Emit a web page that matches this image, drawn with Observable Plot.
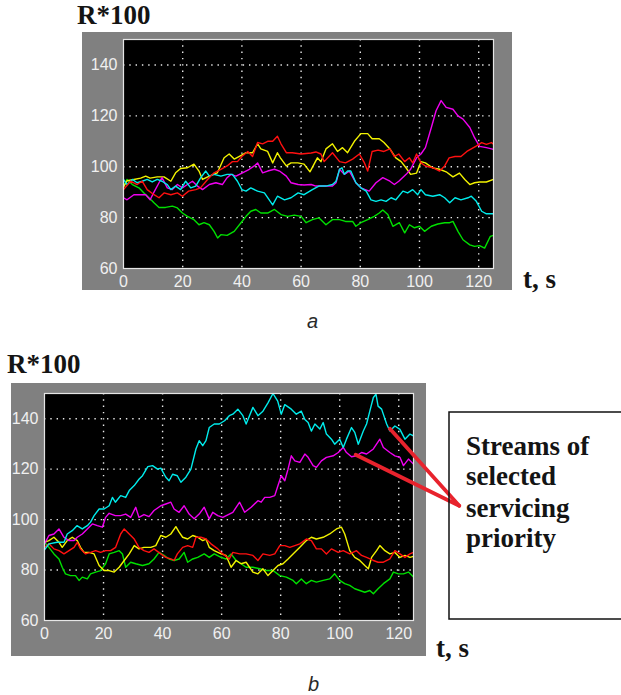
<!DOCTYPE html>
<html><head><meta charset="utf-8">
<script src="https://cdn.jsdelivr.net/npm/d3@7"></script>
<script src="https://cdn.jsdelivr.net/npm/@observablehq/plot@0.6"></script>
<style>
html,body{margin:0;padding:0;background:#fff;}
#page{position:relative;width:621px;height:695px;overflow:hidden;}
.panel{position:absolute;}
.panel svg{overflow:visible;display:block;}
#overlay{position:absolute;left:0;top:0;pointer-events:none;}
</style></head>
<body><div id="page">
<div id="pa" class="panel" style="left:82px;top:32px"></div>
<div id="pb" class="panel" style="left:11px;top:383px"></div>
<svg id="overlay" width="621" height="695">
  <g font-family="Liberation Serif, Times New Roman, serif" font-weight="bold" font-size="27" fill="#141414">
    <text x="77" y="24">R*100</text>
    <text x="523" y="288">t, s</text>
    <text x="7" y="373">R*100</text>
    <text x="436" y="657">t, s</text>
  </g>
  <g font-family="Liberation Sans, Arial, sans-serif" font-style="italic" font-size="20" fill="#2a2a2a">
    <text x="307" y="328">a</text>
    <text x="308" y="691">b</text>
  </g>
  <rect x="449" y="412" width="190" height="207" fill="none" stroke="#111" stroke-width="1.5"></rect>
  <g font-family="Liberation Serif, Times New Roman, serif" font-weight="bold" font-size="27" fill="#141414">
    <text x="466" y="455">Streams of</text>
    <text x="466" y="485">selected</text>
    <text x="466" y="517">servicing</text>
    <text x="466" y="547">priority</text>
  </g>
</svg>
</div>
<script>
// ---- axes ----
const xTicks = [0, 20, 40, 60, 80, 100, 120];
const yTicks = [60, 80, 100, 120, 140];
const xDomain = [0, 125];
const yDomain = [60, 150];

// ---- panel a: [t, R*100] ----
const aYellow = [[0,92],[1.2,94.5],[3.5,95],[5.8,95.5],[7.5,96.3],[9,95.5],[11.4,96],[13.7,96],[16,94.3],[17.6,97.6],[19.3,99.3],[21.6,99.6],[23.8,101],[25.5,98.3],[26.7,95],[29,96.3],[31.7,97.6],[34,103.5],[35.7,105],[37.4,103],[39,104],[41.4,105.5],[43.6,105.5],[45.3,109],[46.4,107],[48.7,106],[50.4,101.5],[52,105.5],[53,103.5],[55,100.3],[56.6,101.5],[58.9,101.5],[61,101],[63,98],[65.5,103.5],[66.7,102],[68.4,107],[70.6,109],[72.3,106],[74,107.5],[75.7,105.5],[78,110],[80.2,113],[82.5,113],[84,111],[86.4,111],[88,109.5],[90,107],[92,103.5],[93.8,102],[95.5,99.5],[97,97],[99,97.5],[100.5,102],[102,101.5],[104.5,99.5],[106.8,99],[109,98],[111.3,96],[113.5,97.5],[115.3,95],[117,93],[118.6,93.7],[120.3,94],[122.6,94],[125,95]];
const aRed = [[0,91],[2.4,94.3],[4.6,93],[6.3,94.3],[8,91],[10.3,89],[12,87.8],[13.7,89.7],[16,89],[18.2,89.7],[19.9,88.4],[22,90.4],[24.4,91],[26,91.7],[28.4,95],[30.6,97.6],[32.9,99],[35,100.3],[36.8,102],[38.5,102],[40,104],[42,106],[43.6,104],[45.3,109.5],[47,109],[48.7,110],[50.4,110],[52,112],[53.2,109],[55,105.5],[57,105.5],[60,105],[63.4,105.4],[65,105.8],[66.7,105],[67.8,102],[70.6,105.5],[73,102],[75,101.5],[77.4,103],[79.7,105],[81.4,101.5],[82.5,98.3],[84,106],[86,106.5],[88,106],[90,107],[91.5,104],[93,105],[95,102],[96.6,103.5],[97.7,101.5],[99,105],[100.5,101.5],[102,100.3],[104.5,99.6],[106.8,98.3],[108.5,100.3],[110,103.5],[112,104],[114,104],[116,106],[117.5,107],[119,108],[121,109.5],[122.6,108.8],[124.3,109.5],[125,108.8]];
const aMagenta = [[0,87.8],[1.2,87],[3.5,89],[5.8,89],[7.5,89],[9,87],[10.3,90],[12,93.7],[13,95.7],[14.8,91.7],[16.5,91],[18.2,93],[19.9,91.7],[21.6,93],[23.3,94.3],[25,92.4],[26.7,91],[29,93],[31.2,93.7],[33.4,93],[35,95.7],[36.3,97],[38,96.3],[40.2,97.6],[42.5,99],[44.2,100.3],[45.3,101.5],[47,97.6],[48.7,98.3],[51,99],[52.7,98.3],[55,96.3],[56.6,93.7],[59,93],[61,92.8],[63.4,93],[65,92.4],[68.4,92.4],[70.6,92.4],[71.8,93.7],[73,99],[74.6,97],[76.3,98.3],[78.5,93.7],[80.2,91.7],[83,90.4],[85.3,93.7],[87.6,95.7],[90,94.3],[91.5,93],[93,94.3],[95.5,97],[97,99],[99,103.5],[100.5,105],[102,107.5],[104,115.4],[105.6,122],[107.3,126],[109,123.3],[111.3,122.6],[113,120],[114.7,118.7],[117,115.4],[118.6,111.4],[120.3,108],[122.6,107.5],[125,106.8]];
const aCyan = [[0,95],[1.2,93],[3,95],[4.6,93.7],[6.3,94.3],[8,95],[9.7,94],[11.4,95],[13,94.3],[14.8,93],[16,91],[17.6,92.4],[19.3,91],[21,94.3],[22.7,91.7],[24.4,92.4],[26.1,95.7],[27.8,98.3],[29,96.3],[30.6,97],[32.9,96.3],[35,97],[36.8,97],[38.5,94.3],[40,91],[41.4,90.4],[43,91.7],[45.3,90.4],[47.6,89.7],[50.4,85],[52,88.4],[54.4,87],[56.6,87.8],[59,89.7],[61,89],[63.8,91],[66,92.4],[68.4,92.4],[70.6,93],[71.8,94.3],[73,99],[73.8,99.6],[74.6,97],[75.7,98.3],[76.8,98.3],[78.5,93.7],[80.2,91.7],[82,90.4],[83.6,87],[85.3,86.4],[87,87],[88.7,86.4],[90.4,87.8],[92,87],[94.4,90.4],[96,89.7],[97.7,91],[99.4,89],[100.5,91],[102,89],[104.5,88.4],[106.8,89],[108.5,87.8],[110.2,85.8],[112,87.8],[114,87],[116.4,87.8],[117.5,88.4],[119.2,86.4],[121,82.5],[122.6,81.5],[125,81.5]];
const aGreen = [[0,92.4],[1.2,95],[3,93],[5.2,91.7],[6.9,89.7],[8.6,87.8],[10.3,85.8],[12,84],[14.2,84],[16.5,84.5],[18.2,83.8],[19.9,81.8],[21.6,80.5],[23.8,79.2],[25.5,77.2],[27.2,78],[29,77.2],[30.6,74.6],[31.8,72],[32.9,73.3],[35,73],[37.4,74.6],[39.7,78],[41.4,80.5],[43,82.5],[44.7,83.2],[46.4,81.8],[48.7,81.8],[51,83.2],[53.2,81.2],[55.5,80.5],[57.7,81],[60,80.5],[61.7,78],[63.8,79.2],[66,79.9],[68.4,77.2],[70.6,79.2],[73,79.2],[75,78.5],[77.4,78.5],[78.5,76.6],[80.2,78],[82.5,79.2],[84.7,80.5],[86.4,81.8],[87.6,83],[89.3,81.2],[91,76.6],[93.2,78],[95,74],[96.6,77.2],[98.3,76],[100,76.6],[101.7,74.6],[104,76.6],[106.2,77.5],[108.5,78],[110.2,78],[111.3,78.5],[113,74.6],[114.7,71.3],[117,69.3],[118.6,68.7],[120.3,69],[122,68],[123.9,72.6],[125,73]];

// ---- panel b: [t, R*100] ----
const bCyan = [[0,88],[1.5,90.4],[4.3,91],[6.6,91],[7.7,94.3],[9.4,95.6],[11,97.6],[12.8,96.3],[14.5,97.6],[15.6,99],[16.8,101.6],[18.5,104.2],[20.2,104.2],[21.9,105.5],[23,108.8],[24,106.9],[25.8,109.5],[27.5,108.8],[28.7,111.5],[30.4,113.5],[32,116],[33.2,117.4],[35,121],[36.6,121.4],[38.3,120],[39.4,120.4],[41.1,116.8],[42.2,115.4],[43.4,118],[45,117.4],[46.2,114.8],[47.9,116.8],[49.6,120],[51.3,128],[52.4,131.3],[53.6,129.3],[54.7,131.3],[55.8,136.5],[57.5,137.9],[59.2,137.9],[61,139.2],[62.6,141.2],[63.8,141.8],[65.5,143.8],[67.2,141.2],[68.3,137.9],[70.6,144.5],[72.3,141.2],[74,143],[75.7,146.3],[77.4,150],[79,147],[80.2,141.8],[81.4,145.6],[83.6,143.8],[85.3,141.8],[87,143],[88.2,139.7],[89.3,138.5],[90.4,135.1],[91.6,137.9],[93.3,135.9],[94.4,138.5],[95.5,133.9],[97.2,131.9],[98.3,129.9],[100,131.9],[101.2,128.6],[102.3,131.9],[104,136.5],[105.1,134.6],[106.3,129.9],[108,135.1],[109.1,137.9],[110.2,143],[111.4,148.4],[112.3,149.7],[113,145],[114.2,143.8],[115.9,137.9],[117,135.1],[118.7,137.1],[120.4,135.8],[122.1,131.9],[123.8,133.9],[125,133.2]];
const bMagenta = [[0,90.4],[1.5,93.7],[3.2,94.3],[4.9,96.3],[6.6,93],[8.3,91.7],[10,91.7],[11.1,93],[12.8,94.3],[14.5,96.3],[16.2,98.3],[17.9,97.6],[19.6,97],[20.7,100.9],[21.9,102.5],[24,101.6],[25.8,101.6],[27.5,102.2],[29.2,100.9],[30.9,104.9],[32,100.9],[33.7,102],[35.4,101.2],[37.1,103.6],[39.4,105.5],[41.1,106.2],[42.8,106.9],[43.9,104.2],[45.6,102.9],[47.3,105.5],[49,102.2],[50.7,100.3],[52.4,102.2],[54.1,104.9],[55.8,100.3],[57,102.9],[58.7,101.6],[60.4,100.9],[62.6,102.2],[63.8,102.9],[66.1,106.9],[67.8,102.9],[70,104.9],[72.3,107.5],[73.4,106.9],[74.6,108.8],[76.3,108.8],[78,109.5],[79.1,113.5],[80.2,117.4],[81.4,115.4],[82.5,120],[83.6,125.3],[84.8,123.3],[86.5,122.7],[88.2,126],[89.3,124.7],[91,121.4],[92.1,120.7],[93.8,123.3],[95.5,124.7],[97.8,125.3],[99.5,126.6],[101.2,128.6],[102.3,126.6],[104,124.9],[105.7,125.3],[107.4,126.6],[109.1,126],[111.4,128],[113.6,131.9],[114.8,128.6],[117,126.6],[118.7,125.3],[120.4,124.7],[121.6,121.4],[123.3,124],[125,122]];
const bRed = [[0,89],[1.5,90.4],[3.2,88.4],[4.9,87.7],[6.6,86.4],[8.3,87.7],[10,89],[11.1,91],[12.2,88.4],[13.9,86.4],[15.6,87],[17.3,87.7],[19,87],[20.7,87.7],[22.4,87.7],[24.1,89],[25.8,94.3],[27,96.3],[28.7,94.3],[30.4,92.3],[32,89],[33.7,87.7],[35.4,87],[37.1,88.4],[39.4,86.4],[41.1,85],[42.8,84.4],[43.9,83.8],[45,86.4],[46.8,89],[48.5,89.7],[50.2,89],[51.3,93],[53,93],[54.7,92.3],[56.4,90.4],[58.7,88.4],[60.4,86.4],[62.6,84.4],[63.8,87],[66.1,86.4],[68.3,86.4],[70.6,85.8],[72.3,83.8],[74,86.4],[76.3,85.8],[78,86.4],[79.7,89.7],[81.4,89.7],[83.1,89],[84.8,89.7],[86.5,90.4],[88.7,92.3],[90.4,91.7],[92.1,88.4],[93.8,88.4],[95.5,86.4],[97.2,88.4],[99.5,87],[101.2,87.7],[103.4,86.4],[105.7,87.7],[107.4,85.8],[109.1,85],[111.4,83.8],[113,83.1],[114.8,83.1],[117,84.4],[118.7,87.7],[120.4,86.4],[122.1,85],[123.8,86.4],[125,87]];
const bYellow = [[0,91],[1.5,91.7],[3.2,93],[4.9,91],[6,89],[7.7,91.7],[9.4,93],[11.1,91.7],[12.2,89],[13.4,87],[15.1,87],[16.8,86.4],[18.5,81.8],[20.2,79.8],[21.9,79.8],[23.6,79.2],[25.3,81.1],[27,83.8],[28.7,86.4],[30.4,89.7],[32,88.4],[33.7,89],[36,89],[37.7,89.7],[39.4,93.7],[41.1,93],[42.8,94.3],[44.5,97.2],[45.6,95],[46.8,93],[48.5,92.3],[50.2,93.7],[51.9,93],[53.6,91.7],[54.7,92.3],[55.8,89],[57.5,87.7],[59.8,86.4],[61.5,85.8],[63.2,81.1],[64.9,83.8],[66.6,82.5],[68.3,83.1],[70.6,79.2],[72.3,78.5],[74,80.5],[75.7,77.8],[77.4,79.8],[79.1,81.8],[80.8,82.5],[82.5,84.4],[84.2,86.4],[86.5,89],[88.7,91.7],[90.4,93],[92.1,92.3],[94.4,93],[96.6,94.3],[98.9,96.3],[100.6,97],[101.7,94.3],[103.4,87.7],[105.1,85],[106.8,83.8],[108.5,81.8],[109.7,80.5],[110.8,85],[112.5,87.7],[113.6,89.7],[115.3,87.7],[117,86.4],[118.7,87],[120.4,85],[122.1,85.8],[123.8,85],[125,85.4]];
const bGreen = [[0,91],[1.5,89],[3.2,86.4],[4.9,84.4],[6,81.1],[7.1,78.5],[8.8,77.8],[10.5,77.8],[11.7,75.9],[12.8,77.2],[14.5,76.5],[15.6,78.5],[17.3,79.2],[19,79.8],[20.7,82.5],[21.9,86.4],[23.6,87],[25.3,87.7],[26.4,86.4],[27.5,81.1],[29.2,83.1],[30.9,82.5],[33.2,81.8],[35.4,82.5],[37.1,84.4],[38.8,87],[40.5,85.8],[42.2,84.4],[43.9,83.8],[45.6,84.4],[47.3,87],[48.5,83.1],[50.2,84.4],[51.9,85],[54.1,86.4],[55.8,85],[57.5,86.4],[59.8,85],[61.5,84.4],[63.2,86.4],[64.9,83.8],[66.6,82.5],[68.3,81.1],[70.6,81.1],[72.9,80.5],[75.1,79.8],[77.4,79.8],[79.7,77.8],[81.9,77.2],[84.2,75.9],[85.3,74.6],[87,76.5],[88.7,74.6],[90.4,75.9],[92.1,75.2],[94.4,75.9],[96.6,76.5],[98.3,78.5],[100,75.9],[101.7,74.6],[103.4,73.9],[105.1,72.6],[106.8,71.9],[108.5,71.2],[110.2,71.9],[111.4,70.6],[113,72.6],[114.8,74.6],[117,76.5],[118.2,79.2],[119.9,78.5],[121.6,78.5],[123.3,79.2],[125,77.2]];

// annotation pointers in panel b (data units: [t, R*100])
const pointerStarts = [[117, 136], [105.4, 125.7]];
const pointerEnd = [140.5, 105.5];

const colors = {yellow: "#f2f200", magenta: "#f000f0", cyan: "#00ecec", red: "#ff1010", green: "#00e000"};

function panel(series, size, extra = []) {
  return Plot.plot({
    width: size.width, height: size.height,
    marginLeft: size.ml, marginRight: size.mr, marginTop: size.mt, marginBottom: size.mb,
    style: {background: "#808080", color: "#f0f0f0", fontFamily: "Liberation Sans, Arial, sans-serif", fontSize: "16px", overflow: "visible"},
    x: {domain: xDomain, label: null},
    y: {domain: yDomain, label: null},
    marks: [
      Plot.frame({fill: "black", stroke: null}),
      Plot.ruleX(xTicks.slice(1), {stroke: "#e8e8e8", strokeWidth: 1.4, strokeDasharray: "1.4,4.9"}),
      Plot.ruleY(yTicks.slice(1), {stroke: "#e8e8e8", strokeWidth: 1.4, strokeDasharray: "1.4,4.9"}),
      Plot.axisX(xTicks, {tickSize: 0, tickPadding: 7, label: null, fontSize: 16}),
      Plot.axisY(yTicks, {tickSize: 0, tickPadding: 6, label: null, fontSize: 16}),
      ...series.map(([data, c]) => Plot.line(data, {x: d => d[0], y: d => d[1], stroke: colors[c], strokeWidth: 1.4})),
      Plot.frame({stroke: "#e6e6e6", strokeWidth: 1.2}),
      ...extra
    ]
  });
}

const plotA = panel(
  [[aGreen, "green"], [aYellow, "yellow"], [aMagenta, "magenta"], [aCyan, "cyan"], [aRed, "red"]],
  {width: 430, height: 258, ml: 41, mr: 19, mt: 7, mb: 22}
);
document.getElementById("pa").appendChild(plotA);

const pointers = pointerStarts.map(s => ({x1: s[0], y1: s[1], x2: pointerEnd[0], y2: pointerEnd[1]}));
const plotB = panel(
  [[bGreen, "green"], [bYellow, "yellow"], [bRed, "red"], [bMagenta, "magenta"], [bCyan, "cyan"]],
  {width: 415, height: 273, ml: 33, mr: 13, mt: 10, mb: 36},
  [Plot.link(pointers, {x1: "x1", y1: "y1", x2: "x2", y2: "y2", stroke: "#e8232d", strokeWidth: 3.8, strokeLinecap: "round", clip: false})]
);
document.getElementById("pb").appendChild(plotB);
</script>
</body></html>
